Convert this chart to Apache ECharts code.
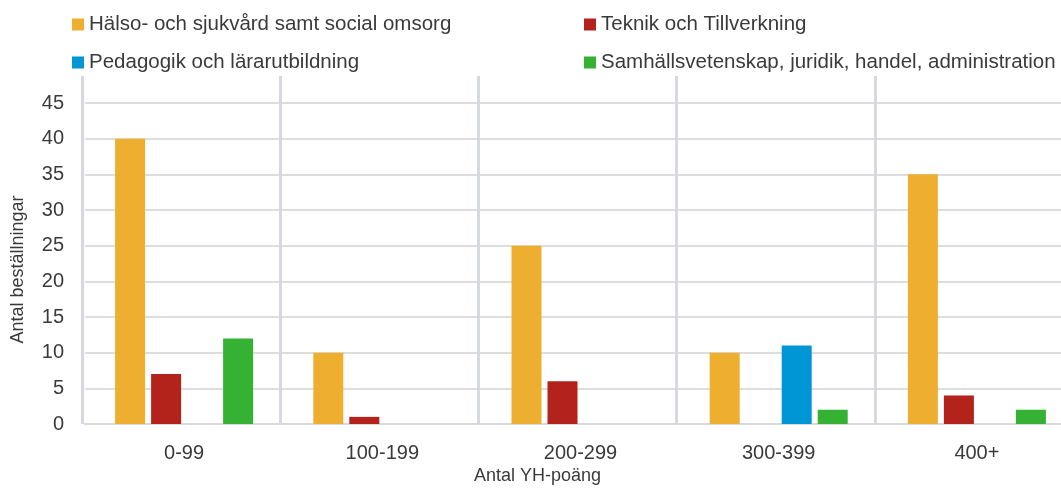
<!DOCTYPE html>
<html>
<head>
<meta charset="utf-8">
<script src="https://cdn.jsdelivr.net/npm/echarts@6/dist/echarts.min.js"></script>
<style>
html,body{margin:0;padding:0;background:#fff;}
#chart{width:1061px;height:488px;}
</style>
</head>
<body>
<div id="chart"></div>
<script>
const categories = ['0-99', '100-199', '200-299', '300-399', '400+'];
const seriesNames = [
  'Hälso- och sjukvård samt social omsorg',
  'Teknik och Tillverkning',
  'Pedagogik och lärarutbildning',
  'Samhällsvetenskap, juridik, handel, administration'
];
const halsoValues = [40, 10, 25, 10, 35];
const teknikValues = [7, 1, 6, 0, 4];
const pedagogikValues = [0, 0, 0, 11, 0];
const samhallValues = [12, 0, 0, 2, 2];
const yTicks = [0, 5, 10, 15, 20, 25, 30, 35, 40, 45];
const yAxisTitle = 'Antal beställningar';
const xAxisTitle = 'Antal YH-poäng';

const colors = ['#EEAF30', '#B3231B', '#0096D6', '#35B234'];
const FONT = '"Liberation Sans", Arial, sans-serif';
const TXT = '#3a3a3a';

const chart = echarts.init(document.getElementById('chart'), null, {renderer: 'canvas'});

const valuesList = [halsoValues, teknikValues, pedagogikValues, samhallValues];
const legendPos = [
  {left: 72, top: 14},
  {left: 584, top: 14},
  {left: 72, top: 52},
  {left: 584, top: 52}
];

const option = {
  animation: false,
  color: colors,
  textStyle: {fontFamily: FONT},
  title: {
    text: xAxisTitle,
    left: 474, top: 467,
    padding: 0,
    textStyle: {fontFamily: FONT, fontSize: 18, fontWeight: 'normal', color: TXT}
  },
  legend: seriesNames.map((n, i) => ({
    data: [n],
    left: legendPos[i].left, top: legendPos[i].top,
    padding: 0,
    icon: 'rect', itemWidth: 12, itemHeight: 12,
    itemGap: 0,
    textStyle: {fontFamily: FONT, fontSize: 20.5, color: TXT, padding: [0, 0, 0, 0]}
  })),
  grid: [
    {left: 85, width: 991, top: 103, height: 321, containLabel: false, outerBoundsMode: 'none'},
    {left: 82, width: 991, top: 76, height: 348, containLabel: false, outerBoundsMode: 'none'}
  ],
  xAxis: [
    {
      type: 'category', gridIndex: 0, data: categories,
      axisLine: {show: true, lineStyle: {color: '#d9d9d9', width: 2}},
      axisTick: {show: false},
      axisLabel: {fontFamily: FONT, fontSize: 20, color: TXT, margin: 19},
      splitLine: {show: false}
    },
    {
      type: 'category', gridIndex: 1, data: categories,
      axisLine: {show: false}, axisTick: {show: false}, axisLabel: {show: false},
      splitLine: {show: true, lineStyle: {color: '#d6d9dd', width: 3}}
    }
  ],
  yAxis: [
    {
      type: 'value', gridIndex: 0, min: yTicks[0], max: yTicks[yTicks.length - 1], interval: 5,
      name: yAxisTitle, nameLocation: 'middle', nameGap: 58, nameRotate: 90,
      nameTextStyle: {fontFamily: FONT, fontSize: 18, color: TXT, padding: [0, 12, 0, 0]},
      axisLine: {show: false}, axisTick: {show: false},
      axisLabel: {fontFamily: FONT, fontSize: 20, color: TXT, margin: 21},
      splitLine: {show: true, lineStyle: {color: '#dddddd', width: 2}}
    },
    {
      type: 'value', gridIndex: 1, min: 0, max: 1,
      show: false, splitLine: {show: false}
    }
  ],
  series: seriesNames.map((n, i) => ({
    name: n, type: 'bar', xAxisIndex: 0, yAxisIndex: 0,
    data: valuesList[i],
    barWidth: 30, barGap: '20%',
    itemStyle: {color: colors[i]}
  }))
};
chart.setOption(option);
</script>
</body>
</html>
